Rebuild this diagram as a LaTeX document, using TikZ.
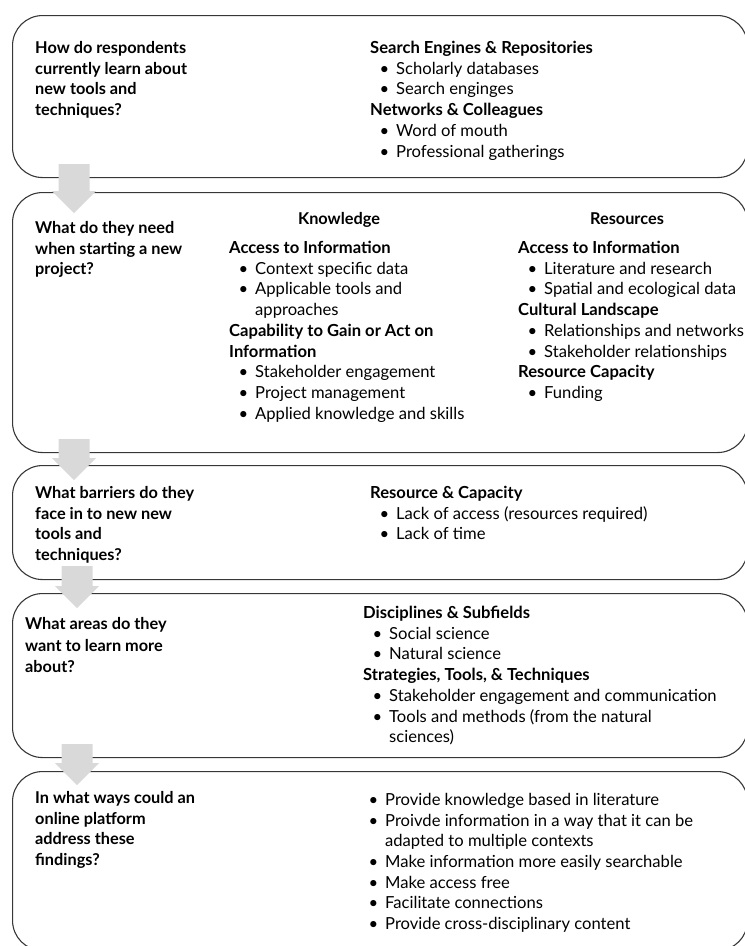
\documentclass[tikz,border=0pt]{standalone}
\usepackage{fontspec}
\setmainfont{Lato}
\usepackage{tikz}
\usetikzlibrary{calc}
\definecolor{framegray}{RGB}{55,55,55}
\definecolor{arrowgray}{RGB}{217,217,217}
\newcommand{\itm}[1]{\makebox[26pt][l]{\hspace{9.5pt}\textbullet}#1}
\newcommand{\itmcont}[1]{\hspace*{26pt}#1}
% block arrow from panel #1 down into panel #2, centred at x = #3, tip #4 below the top of #2
\newcommand{\flowarrow}[4]{%
  \fill[arrowgray] let \p1=(#1.south), \p2=(#2.north) in
    (#3pt-15.5pt,\y1+14pt) -- (#3pt+15.5pt,\y1+14pt) -- (#3pt+15.5pt,\y2-#4pt+22pt)
    -- (#3pt+22pt,\y2-#4pt+22pt) -- (#3pt,\y2-#4pt) -- (#3pt-22pt,\y2-#4pt+22pt)
    -- (#3pt-15.5pt,\y2-#4pt+22pt) -- cycle;}
\tikzset{
  panel/.style={draw=framegray, line width=1.1pt, rounded corners=30pt, anchor=north west,
    inner sep=0pt, minimum width=735pt},
  % text blocks: the given point is the baseline of the first line
  textblock/.style={anchor=north west, yshift=12pt, align=left, inner sep=0pt,
    execute at begin node={\rule{0pt}{14pt}}},
  question/.style={textblock, font=\fontsize{16.3}{20.7}\selectfont\bfseries},
  answers/.style={textblock, font=\fontsize{16.6}{20.7}\selectfont},
  colhead/.style={anchor=base, inner sep=0pt, font=\fontsize{16.3}{20.7}\selectfont\bfseries}
}
\begin{document}
\begin{tikzpicture}[x=1pt, y=-1pt]
    \useasboundingbox (0,0) rectangle (745,946);
    \clip (0,0) rectangle (745,946);

    % the five panels
    \node[panel, minimum height=162pt] (learn) at (12,15) {};
    \node[panel, minimum height=260pt] (need) at (12,192) {};
    \node[panel, minimum height=114pt] (barrier) at (12,465) {};
    \node[panel, minimum height=164pt] (areas) at (12,593) {};
    \node[panel, minimum height=179pt] (platform) at (12,771) {};

    % arrows between panels
    \flowarrow{learn}{need}{74}{21}
    \flowarrow{need}{barrier}{74}{15}
    \flowarrow{barrier}{areas}{77}{15}
    \flowarrow{areas}{platform}{77}{14}

    % panel 1
    \node[question] (learnQ) at (35,53) {How do respondents\\ currently learn about\\ new tools and\\ techniques?};
    \node[answers] (learnA) at (370,53) {\textbf{Search Engines \& Repositories}\\
        \itm{Scholarly databases}\\ \itm{Search enginges}\\
        \textbf{Networks \& Colleagues}\\ \itm{Word of mouth}\\ \itm{Professional gatherings}};

    % panel 2
    \node[question] (needQ) at (35,233) {What do they need\\ when starting a new\\ project?};
    \node[colhead] (knowHead) at (339,224) {Knowledge};
    \node[colhead] (resHead) at (627,224) {Resources};
    \node[answers] (knowList) at (229,253) {\textbf{Access to Information}\\
        \itm{Context specific data}\\ \itm{Applicable tools and}\\ \itmcont{approaches}\\
        \textbf{Capability to Gain or Act on}\\ \textbf{Information}\\
        \itm{Stakeholder engagement}\\ \itm{Project management}\\ \itm{Applied knowledge and skills}};
    \node[answers] (resList) at (518,253) {\textbf{Access to Information}\\
        \itm{Literature and research}\\ \itm{Spatial and ecological data}\\
        \textbf{Cultural Landscape}\\ \itm{Relationships and networks}\\ \itm{Stakeholder relationships}\\
        \textbf{Resource Capacity}\\ \itm{Funding}};

    % panel 3
    \node[question] (barrierQ) at (35,498) {What barriers do they\\ face in to new new\\ tools and\\ techniques?};
    \node[answers] (barrierA) at (370,498) {\textbf{Resource \& Capacity}\\
        \itm{Lack of access (resources required)}\\ \itm{Lack of time}};

    % panel 4
    \node[question, font=\fontsize{16.3}{21.7}\selectfont\bfseries] (areasQ) at (25,629) {What areas do they\\ want to learn more\\ about?};
    \node[answers] (areasA) at (363,618) {\textbf{Disciplines \& Subfields}\\
        \itm{Social science}\\ \itm{Natural science}\\
        \textbf{Strategies, Tools, \& Techniques}\\
        \itm{Stakeholder engagement and communication}\\
        \itm{Tools and methods (from the natural}\\ \itmcont{sciences)}};

    % panel 5
    \node[question] (platformQ) at (35,803) {In what ways could an\\ online platform\\ address these\\ findings?};
    \node[answers] (platformA) at (359,805) {\itm{Provide knowledge based in literature}\\
        \itm{Proivde information in a way that it can be}\\ \itmcont{adapted to multiple contexts}\\
        \itm{Make information more easily searchable}\\ \itm{Make access free}\\
        \itm{Facilitate connections}\\ \itm{Provide cross-disciplinary content}};
\end{tikzpicture}
\end{document}
